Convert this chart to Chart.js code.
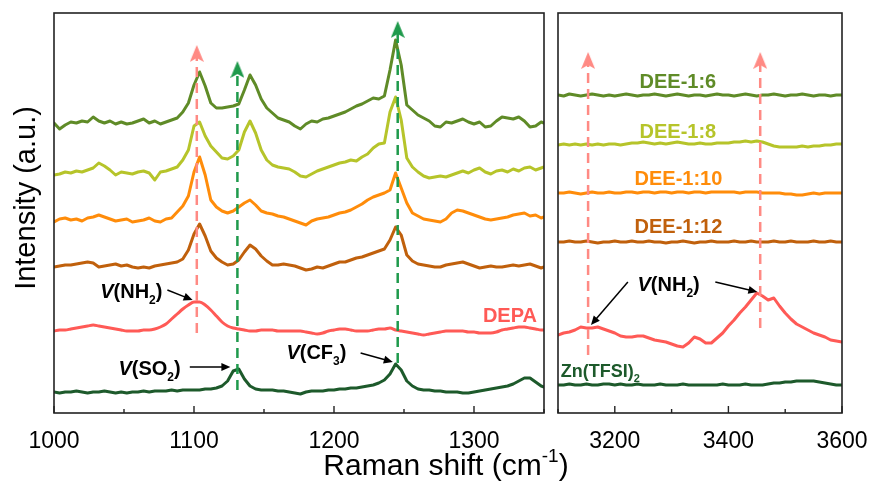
<!DOCTYPE html>
<html>
<head>
<meta charset="utf-8">
<title>Raman spectra</title>
<script src="https://cdn.jsdelivr.net/npm/chart.js@4.4.1/dist/chart.umd.min.js"></script>
<style>
  body { margin: 0; background: #fff; }
  #wrap { position: relative; width: 876px; height: 484px; }
  #wrap canvas { position: absolute; left: 0; top: 0; }
</style>
</head>
<body>
<div id="wrap">
  <canvas id="leftChart" width="876" height="484"></canvas>
  <canvas id="rightChart" width="876" height="484"></canvas>
</div>
<script>
// ---- low-wavenumber window (cm-1) ----
const leftShift = [1000,1004,1008,1012,1016,1020,1024,1028,1032,1036,1040,1044,1048,1052,1056,1060,1064,1068,1072,1076,
  1080,1084,1088,1092,1096,1100,1104,1108,1112,1116,1120,1124,1128,1132,1136,1140,1144,1148,1152,1156,
  1160,1164,1168,1172,1176,1180,1184,1188,1192,1196,1200,1204,1208,1212,1216,1220,1224,1228,1232,1236,
  1240,1244,1248,1252,1256,1260,1264,1268,1272,1276,1280,1284,1288,1292,1296,1300,1304,1308,1312,1316,
  1320,1324,1328,1332,1336,1340,1344,1348,1350];

// stacked intensities (a.u.)
const dee16Left = [29.0,28.4,28.8,29.1,29.0,29.2,29.1,29.6,29.2,29.0,29.2,28.9,29.1,28.9,29.0,29.2,
  29.4,29.0,29.2,28.9,29.1,29.3,29.5,
  30.1,31.0,32.8,34.1,32.7,31.0,30.5,
  30.5,30.6,30.7,30.9,32.3,33.8,32.8,31.4,30.5,
  30.0,29.5,29.3,29.1,28.7,28.4,28.9,29.2,29.1,29.4,29.5,29.7,29.9,30.1,30.4,30.7,30.9,31.2,31.5,31.4,31.7,
  34.3,37.3,34.8,30.8,
  30.3,29.8,29.5,29.2,28.7,28.6,29.1,29.0,29.2,29.4,29.1,28.9,29.1,28.6,28.7,29.2,29.6,29.5,29.4,29.6,29.2,28.6,28.7,29.1,29.0];
const dee18Left = [23.8,23.9,24.1,24.0,24.2,24.1,24.3,24.5,25.0,24.7,24.3,23.8,24.1,24.0,23.9,24.1,24.2,24.0,23.3,24.1,24.2,24.4,24.6,25.3,26.3,
  28.7,29.1,27.7,26.7,26.1,25.5,25.4,25.7,26.3,28.1,29.2,28.0,26.3,25.3,
  24.8,24.6,24.5,24.4,24.1,23.7,23.6,23.9,24.2,24.4,24.6,24.8,25.0,25.1,25.3,25.2,25.6,25.9,26.5,26.9,27.0,
  30.1,31.6,29.3,25.5,
  24.6,24.1,23.7,23.5,23.6,23.7,23.6,23.8,24.0,24.2,24.0,24.3,24.5,24.1,23.9,24.2,24.3,24.1,24.4,24.2,24.5,24.6,24.3,24.5,24.6];
const dee110Left = [19.1,19.4,19.5,19.3,19.4,19.2,19.5,19.6,19.8,19.6,19.4,19.2,19.3,19.4,19.1,19.2,19.3,19.5,19.2,19.1,19.4,19.5,
  20.1,20.7,21.7,24.1,25.6,23.8,21.3,20.6,20.2,20.0,20.2,20.6,21.0,21.3,20.8,20.2,20.0,
  19.9,19.7,19.6,19.4,19.2,19.0,18.8,19.2,19.4,19.5,19.6,19.8,20.0,20.1,20.3,20.6,20.9,21.3,21.6,21.8,22.0,
  22.3,24.0,22.5,21.0,
  20.0,19.7,19.4,19.3,19.2,19.1,19.4,20.0,20.3,20.2,20.0,19.8,19.6,19.4,19.3,19.4,19.5,19.6,19.8,19.9,20.0,19.7,19.8,19.5,19.6];
const dee112Left = [14.6,14.7,14.8,14.8,14.9,15.0,15.1,15.0,14.6,14.7,14.8,14.9,14.7,14.8,14.6,14.5,14.6,14.5,14.7,14.8,14.9,15.0,15.1,
  15.4,16.3,17.9,18.9,17.7,16.2,15.5,15.1,14.8,14.9,15.3,16.1,16.8,16.4,15.7,15.2,
  14.8,14.8,14.9,14.8,14.7,14.5,14.3,14.4,14.6,14.5,14.7,14.9,15.1,15.1,15.3,15.5,15.6,15.8,16.0,16.2,16.4,
  17.3,18.6,17.8,15.8,
  15.2,14.9,14.8,14.7,14.6,14.6,14.8,14.9,15.0,15.1,14.9,14.7,14.5,14.6,14.7,14.6,14.6,14.7,14.8,14.7,14.8,14.9,14.7,14.5,14.6];
const depaLeft = [8.2,8.3,8.3,8.4,8.5,8.6,8.7,8.8,8.7,8.6,
  8.5,8.4,8.3,8.2,8.2,8.2,8.3,8.3,8.4,8.6,
  8.9,9.4,9.9,10.4,10.8,11.1,11.1,10.8,10.3,9.7,
  9.1,8.7,8.5,8.4,8.3,8.2,8.2,8.3,8.3,8.3,
  8.2,8.2,8.2,8.2,8.2,8.1,8.0,7.9,8.0,8.2,
  8.3,8.4,8.4,8.3,8.2,8.2,8.2,8.3,8.4,8.4,
  8.5,8.3,8.2,8.1,8.0,7.9,7.8,7.9,8.0,8.1,
  8.2,8.2,8.2,8.2,8.1,8.1,8.0,8.0,8.0,8.1,
  8.3,8.4,8.5,8.6,8.6,8.5,8.4,8.3,8.3];
const znLeft = [2.1,2.0,2.1,2.1,2.2,2.1,2.0,2.1,2.1,2.2,
  2.1,2.0,2.1,2.0,2.1,2.1,2.2,2.1,2.2,2.2,
  2.2,2.3,2.2,2.3,2.3,2.3,2.3,2.4,2.4,2.5,
  2.7,3.2,4.2,4.4,3.4,2.7,2.4,2.3,2.3,2.3,
  2.2,2.2,2.1,2.0,1.9,2.1,2.2,2.2,2.2,2.3,
  2.3,2.4,2.4,2.5,2.5,2.6,2.7,2.8,3.0,3.3,
  3.9,4.9,4.3,3.2,2.7,2.4,2.3,2.3,2.2,2.2,
  2.1,2.1,2.1,2.0,2.0,2.1,2.2,2.3,2.4,2.5,
  2.6,2.7,2.9,3.2,3.5,3.5,3.1,2.7,2.6];

// ---- N-H stretching window (cm-1) ----
const rightShift = [3100,3110,3120,3130,3140,3150,3160,3170,3180,3190,3200,3210,3220,3230,3240,3250,3260,3270,3280,3290,
  3300,3310,3320,3330,3340,3350,3360,3370,3380,3390,3400,3410,3420,3430,3440,3450,3460,3470,3480,3490,
  3500,3510,3520,3530,3540,3550,3560,3570,3580,3590,3600];

const dee16Right = [31.8,31.7,31.9,31.8,31.7,31.8,31.9,31.8,31.7,31.8,
  31.7,31.8,31.9,31.8,31.7,31.8,31.8,31.9,31.8,31.7,
  31.8,31.9,31.8,31.7,31.8,31.8,31.7,31.8,31.9,31.8,
  31.8,31.7,31.8,31.9,31.8,31.7,31.8,31.8,31.9,31.8,
  31.7,31.8,31.8,31.9,31.8,31.7,31.8,31.8,31.7,31.8,31.8];
const dee18Right = [26.8,26.9,26.8,26.9,26.8,26.9,26.8,26.9,26.8,26.9,
  26.9,26.8,26.9,27.0,27.0,27.1,27.0,26.9,27.0,26.9,
  27.0,27.1,27.0,26.9,26.9,27.0,26.9,26.9,27.0,27.0,
  27.0,27.1,27.1,27.2,27.1,27.2,27.1,26.9,26.7,26.6,
  26.6,26.6,26.6,26.7,26.6,26.7,26.7,26.8,26.8,26.9,26.9];
const dee110Right = [22.0,22.0,22.1,22.0,21.9,22.0,22.1,22.0,22.0,22.1,
  22.0,22.0,22.1,22.1,22.0,22.1,22.1,22.0,22.1,22.1,
  22.0,22.1,22.1,22.0,22.1,22.1,22.0,22.1,22.1,22.1,
  22.1,22.1,22.0,22.1,22.1,22.1,22.0,22.0,22.0,22.0,
  21.9,21.9,21.8,21.8,21.9,22.0,21.9,22.0,22.0,22.0,22.0];
const dee112Right = [17.1,17.1,17.2,17.1,17.1,17.2,17.1,17.0,17.1,17.1,
  17.2,17.1,17.1,17.2,17.1,17.1,17.2,17.1,17.1,17.0,
  17.1,17.1,17.2,17.1,17.0,17.1,17.1,17.2,17.1,17.1,
  17.1,17.2,17.1,17.1,17.2,17.1,17.1,17.1,17.2,17.1,
  17.1,17.2,17.1,17.1,17.1,17.2,17.1,17.1,17.2,17.1,17.1];
const depaRight = [7.8,8.0,8.1,8.3,8.6,8.5,8.5,8.6,8.4,8.2,
  8.0,7.7,7.6,7.6,7.7,7.7,7.5,7.3,7.2,7.1,
  6.9,6.7,6.6,7.0,7.6,7.4,7.0,7.0,7.5,8.0,
  8.7,9.3,10.0,10.6,11.3,12.0,11.7,11.3,11.5,10.7,
  10.0,9.4,8.9,8.6,8.3,8.0,7.8,7.6,7.3,7.2,7.1];
const znRight = [2.8,2.8,2.9,2.8,2.8,2.9,2.8,2.8,2.9,2.9,
  2.8,2.9,2.8,2.8,2.9,2.8,2.8,2.8,2.9,2.8,
  2.8,2.8,2.9,2.8,2.8,2.8,2.8,2.8,2.8,2.9,
  2.8,2.8,2.8,2.9,2.8,2.8,2.8,2.9,3.0,3.0,
  3.1,3.1,3.2,3.2,3.2,3.2,3.1,3.0,2.9,2.8,2.8];

// peak guide lines: position, lower end, arrow end
const leftGuideShift = [1102, 1131, 1245.5];
const leftGuideLow = [8.0, 2.3, 5.0];
const leftGuideHigh = [35.95, 34.35, 38.35];
const rightGuideShift = [3153, 3456];
const rightGuideLow = [5.8, 8.5];
const rightGuideHigh = [35.25, 35.25];

const FONT = "'Liberation Sans', Arial, Helvetica, sans-serif";
const C = {
  dee16: '#5f8b27', dee18: '#b6c42a', dee110: '#ff8c0a', dee112: '#c0600c',
  depa: '#ff5a56', zn: '#1d5a2b', guideRed: '#ff8a84', guideGreen: '#1f9a4c'
};

Chart.defaults.font.family = FONT;
Chart.defaults.color = '#000';

// small arrowhead sprite used as the point style at the top of each guide line
function arrowHead(color) {
  const c = document.createElement('canvas');
  c.width = 14; c.height = 17;
  const g = c.getContext('2d');
  g.fillStyle = color;
  g.beginPath();
  g.moveTo(7, 0);
  g.lineTo(14, 17);
  g.lineTo(7, 13);
  g.lineTo(0, 17);
  g.closePath();
  g.fill();
  return c;
}

function pairs(xs, ys) { return xs.map((x, i) => ({ x: x, y: ys[i] })); }

function spectrum(label, xs, ys, color, smooth) {
  return {
    label: label, data: pairs(xs, ys), borderColor: color, borderWidth: 3,
    pointRadius: 0, fill: false, tension: 0,
    cubicInterpolationMode: smooth ? 'monotone' : 'default',
    borderJoinStyle: 'round', borderCapStyle: 'round'
  };
}

function guide(x, low, high, color) {
  return {
    data: [{ x: x, y: low }, { x: x, y: high }], borderColor: color, borderWidth: 2.5,
    borderDash: [10, 6], pointStyle: [false, arrowHead(color)], pointRadius: [0, 8],
    order: -1
  };
}

// text with bold / italic / sub / superscript pieces
function fontFor(p, size, weight) {
  const s = (p.sub || p.sup) ? Math.round(size * 0.62) : size;
  return (p.it ? 'italic ' : '') + weight + ' ' + s + 'px ' + FONT;
}
function drawRich(ctx, parts, x, y, size, align, color, weight) {
  weight = weight || 'bold';
  ctx.textBaseline = 'alphabetic';
  ctx.textAlign = 'left';
  ctx.fillStyle = color || '#000';
  let total = 0;
  parts.forEach(p => { ctx.font = fontFor(p, size, weight); total += ctx.measureText(p.t).width; });
  let cx = align === 'center' ? x - total / 2 : (align === 'right' ? x - total : x);
  parts.forEach(p => {
    ctx.font = fontFor(p, size, weight);
    const dy = p.sub ? size * 0.3 : (p.sup ? -size * 0.42 : 0);
    ctx.fillText(p.t, cx, y + dy);
    cx += ctx.measureText(p.t).width;
  });
}

function arrow(ctx, x1, y1, x2, y2) {
  const a = Math.atan2(y2 - y1, x2 - x1), len = 9, w = 4;
  ctx.strokeStyle = '#000'; ctx.fillStyle = '#000'; ctx.lineWidth = 1.5;
  ctx.beginPath();
  ctx.moveTo(x1, y1);
  ctx.lineTo(x2 - Math.cos(a) * len * 0.8, y2 - Math.sin(a) * len * 0.8);
  ctx.stroke();
  ctx.beginPath();
  ctx.moveTo(x2, y2);
  ctx.lineTo(x2 - Math.cos(a) * len + Math.sin(a) * w, y2 - Math.sin(a) * len - Math.cos(a) * w);
  ctx.lineTo(x2 - Math.cos(a) * len - Math.sin(a) * w, y2 - Math.sin(a) * len + Math.cos(a) * w);
  ctx.closePath();
  ctx.fill();
}

const vNH2 = [{ t: 'V', it: true }, { t: '(NH' }, { t: '2', sub: true }, { t: ')' }];
const vSO2 = [{ t: 'V', it: true }, { t: '(SO' }, { t: '2', sub: true }, { t: ')' }];
const vCF3 = [{ t: 'V', it: true }, { t: '(CF' }, { t: '3', sub: true }, { t: ')' }];

const leftNotes = {
  labels: [
    { parts: vNH2, x: 1033, y: 11.5, align: 'left', size: 20 },
    { parts: vSO2, x: 1046, y: 3.8, align: 'left', size: 20 },
    { parts: vCF3, x: 1166, y: 5.4, align: 'left', size: 20 },
    { parts: [{ t: 'DEPA' }], x: 1345, y: 9.1, align: 'right', size: 20, color: C.depa }
  ],
  arrows: [[1081, 12.3, 1099, 11.3], [1097, 4.6, 1126, 4.6], [1219, 6.0, 1242, 5.1]]
};
const rightNotes = {
  labels: [
    { parts: [{ t: 'DEE-1:6' }], x: 3311, y: 32.5, align: 'center', size: 20, color: C.dee16 },
    { parts: [{ t: 'DEE-1:8' }], x: 3311, y: 27.5, align: 'center', size: 20, color: C.dee18 },
    { parts: [{ t: 'DEE-1:10' }], x: 3312, y: 22.8, align: 'center', size: 20, color: C.dee110 },
    { parts: [{ t: 'DEE-1:12' }], x: 3312, y: 18.0, align: 'center', size: 20, color: C.dee112 },
    { parts: [{ t: 'Zn(TFSI)' }, { t: '2', sub: true }], x: 3105, y: 3.6, align: 'left', size: 18, color: C.zn },
    { parts: vNH2, x: 3240, y: 12.2, align: 'left', size: 20 }
  ],
  arrows: [[3223, 13.1, 3158, 8.8], [3377, 13.1, 3451, 12.1]]
};

// frame, inward ticks, annotations (and shared axis titles on the left panel)
const decorPlugin = {
  id: 'decor',
  afterDraw(chart, args, opts) {
    const ctx = chart.ctx, area = chart.chartArea, xs = chart.scales.x, ys = chart.scales.y;
    ctx.save();
    ctx.strokeStyle = '#222'; ctx.lineWidth = 1.6;
    ctx.strokeRect(area.left, area.top, area.right - area.left, area.bottom - area.top);
    ctx.lineWidth = 1.4;
    xs.ticks.forEach(t => {
      const px = xs.getPixelForValue(t.value);
      const len = t.label !== '' ? 7 : 4;
      ctx.beginPath(); ctx.moveTo(px, area.bottom); ctx.lineTo(px, area.bottom - len); ctx.stroke();
    });
    const notes = opts.notes;
    notes.arrows.forEach(a => arrow(ctx, xs.getPixelForValue(a[0]), ys.getPixelForValue(a[1]),
      xs.getPixelForValue(a[2]), ys.getPixelForValue(a[3])));
    notes.labels.forEach(l => drawRich(ctx, l.parts, xs.getPixelForValue(l.x), ys.getPixelForValue(l.y),
      l.size, l.align, l.color));
    if (opts.titles) {
      ctx.save();
      ctx.translate(27, 198); ctx.rotate(-Math.PI / 2);
      ctx.font = '29px ' + FONT; ctx.fillStyle = '#000';
      ctx.textAlign = 'center'; ctx.textBaseline = 'middle';
      ctx.fillText('Intensity (a.u.)', 0, 0);
      ctx.restore();
      drawRich(ctx, [{ t: 'Raman shift (cm' }, { t: '-1', sup: true }, { t: ')' }], 446, 475, 30, 'center', '#000', 'normal');
    }
    ctx.restore();
  }
};

function panel(id, datasets, xmin, xmax, step, labelEvery, pad, notes, titles) {
  return new Chart(document.getElementById(id), {
    type: 'line',
    data: { datasets: datasets },
    plugins: [decorPlugin],
    options: {
      responsive: false, animation: false, devicePixelRatio: 1,
      layout: { padding: pad },
      plugins: { legend: { display: false }, tooltip: { enabled: false }, decor: { notes: notes, titles: titles } },
      scales: {
        x: {
          type: 'linear', min: xmin, max: xmax,
          grid: { display: false }, border: { display: false },
          ticks: {
            stepSize: step, autoSkip: false, maxRotation: 0, padding: 7,
            font: { size: 23 }, color: '#000',
            callback: v => (v % labelEvery === 0 ? String(v) : '')
          },
          afterFit: s => { s.height = 71; }
        },
        y: { type: 'linear', min: 0, max: 40, display: false }
      }
    }
  });
}

const leftSets = [
  spectrum('DEE-1:6', leftShift, dee16Left, C.dee16),
  spectrum('DEE-1:8', leftShift, dee18Left, C.dee18),
  spectrum('DEE-1:10', leftShift, dee110Left, C.dee110),
  spectrum('DEE-1:12', leftShift, dee112Left, C.dee112),
  spectrum('DEPA', leftShift, depaLeft, C.depa, true),
  spectrum('Zn(TFSI)2', leftShift, znLeft, C.zn)
];
const leftGuideColors = [C.guideRed, C.guideGreen, C.guideGreen];
leftGuideShift.forEach((x, i) => leftSets.push(guide(x, leftGuideLow[i], leftGuideHigh[i], leftGuideColors[i])));

const rightSets = [
  spectrum('DEE-1:6', rightShift, dee16Right, C.dee16),
  spectrum('DEE-1:8', rightShift, dee18Right, C.dee18),
  spectrum('DEE-1:10', rightShift, dee110Right, C.dee110),
  spectrum('DEE-1:12', rightShift, dee112Right, C.dee112),
  spectrum('DEPA', rightShift, depaRight, C.depa),
  spectrum('Zn(TFSI)2', rightShift, znRight, C.zn)
];
rightGuideShift.forEach((x, i) => rightSets.push(guide(x, rightGuideLow[i], rightGuideHigh[i], C.guideRed)));

panel('leftChart', leftSets, 1000, 1350, 50, 100, { left: 54, right: 332, top: 13, bottom: 0 }, leftNotes, true);
panel('rightChart', rightSets, 3100, 3600, 100, 200, { left: 558, right: 34, top: 13, bottom: 0 }, rightNotes, false);
</script>
</body>
</html>
